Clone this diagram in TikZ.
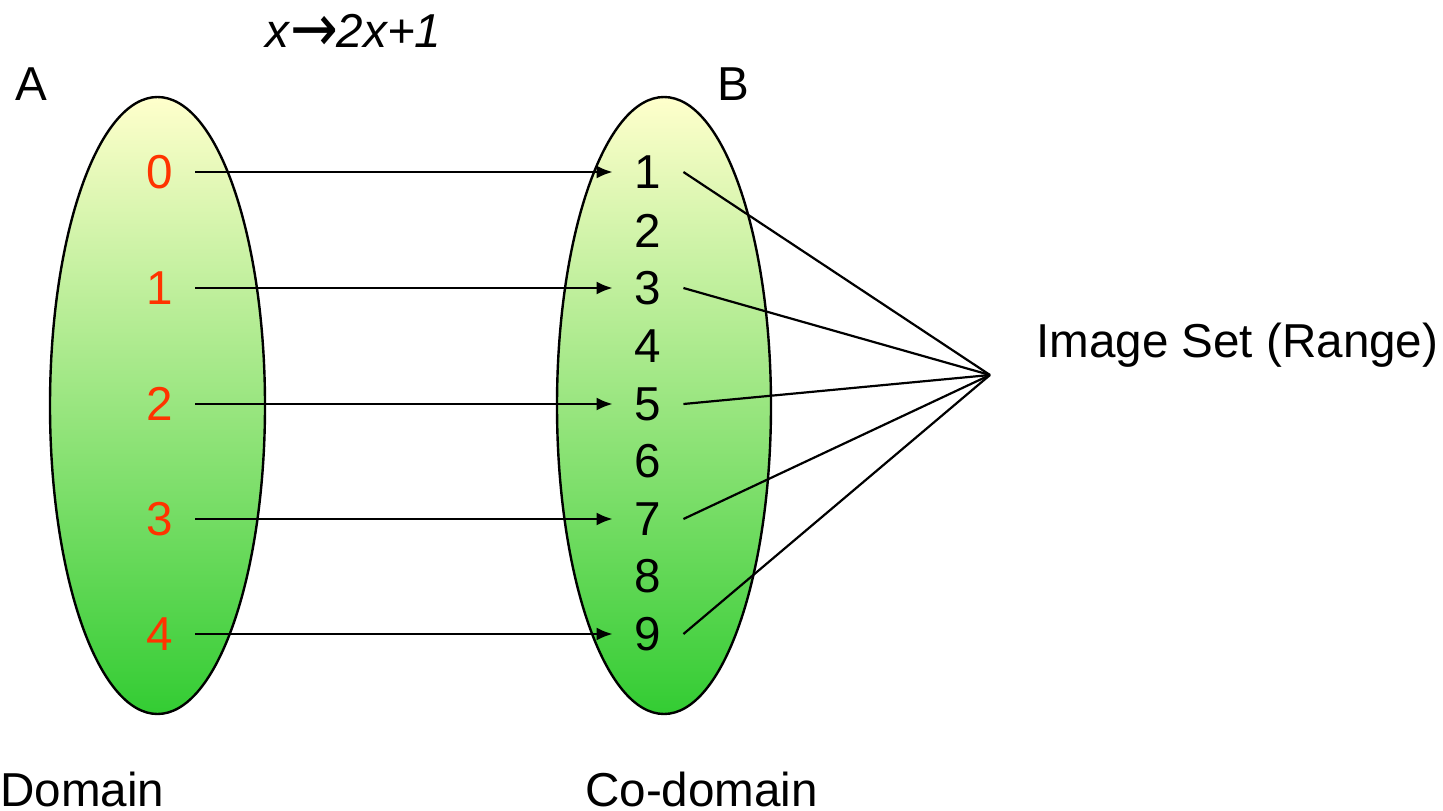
\documentclass[tikz,border=0pt]{standalone}
\usepackage{fontspec}
\setmainfont{Liberation Sans}
\newfontfamily\arrowfont{DejaVu Sans}
\usetikzlibrary{arrows.meta}
\definecolor{topc}{RGB}{255,255,204}
\definecolor{midc}{RGB}{230,244,176}
\definecolor{botc}{RGB}{51,204,51}
\definecolor{redn}{RGB}{255,51,0}
\begin{document}
\begin{tikzpicture}[x=1pt,y=-1pt,
  setell/.style={draw=black,line width=2.4pt,top color=topc,middle color=midc,bottom color=botc,shading angle=0},
  dig/.style={inner xsep=22pt,inner ysep=0pt,font=\fontsize{47.6}{57}\selectfont},
  rdig/.style={dig,text=redn},
  lbl/.style={inner sep=0pt,font=\fontsize{47.6}{57}\selectfont},
  arr/.style={line width=2.2pt,-{Latex[length=16pt,width=13pt]}},
  ln/.style={line width=2.2pt}]
\useasboundingbox (0,0) rectangle (1443,811);
\fill[white] (0,0) rectangle (1443,811);
\path[setell] (157.5,405.5) ellipse [x radius=107.5, y radius=308.5];
\path[setell] (664,405.5) ellipse [x radius=107, y radius=308.5];
\node[lbl,anchor=base west] (title) at (265,47) {\itshape x\kern1pt{\arrowfont\raisebox{-4pt}{\scalebox{1.2}[1.4]{→}}}\kern-1pt2x+1};
\node[lbl] (A) at (31,84) {A};
\node[lbl] (B) at (733,84) {B};
\node[lbl,anchor=base west] (dom) at (0,806) {Domain};
\node[lbl,anchor=base west] (codom) at (585,806) {Co-domain};
\node[lbl,anchor=base west] (img) at (1036,357) {Image Set (Range)};
\node[rdig] (a0) at (160,172) {0};
\node[rdig] (a1) at (160,288) {1};
\node[rdig] (a2) at (160,404) {2};
\node[rdig] (a3) at (160,519) {3};
\node[rdig] (a4) at (160,634) {4};
\node[dig] (b1) at (648,172) {1};
\node[dig] (b2) at (648,231) {2};
\node[dig] (b3) at (648,288) {3};
\node[dig] (b4) at (648,346) {4};
\node[dig] (b5) at (648,404) {5};
\node[dig] (b6) at (648,461) {6};
\node[dig] (b7) at (648,519) {7};
\node[dig] (b8) at (648,576) {8};
\node[dig] (b9) at (648,634) {9};
\coordinate (R) at (990,375);
\draw[arr] (a0.east) -- (b1.west);
\draw[arr] (a1.east) -- (b3.west);
\draw[arr] (a2.east) -- (b5.west);
\draw[arr] (a3.east) -- (b7.west);
\draw[arr] (a4.east) -- (b9.west);
\foreach \n in {b1,b3,b5,b7,b9} \draw[ln] (\n.east) -- (R);
\end{tikzpicture}
\end{document}
